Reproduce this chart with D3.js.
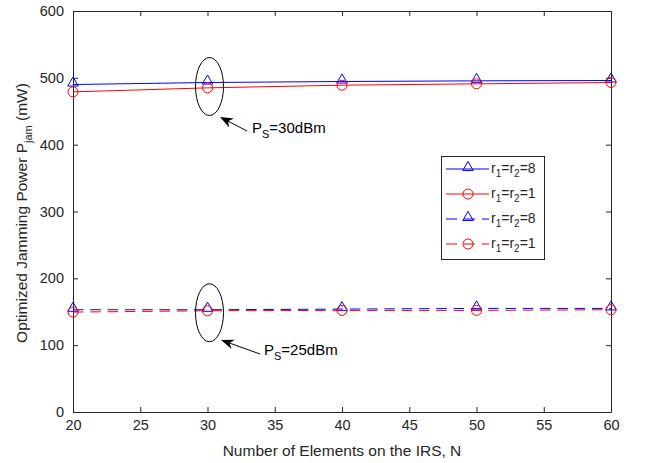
<!DOCTYPE html>
<meta charset="utf-8">
<style>
body{margin:0;background:#fff;}
text{font-family:"Liberation Sans",Arial,sans-serif;fill:#262626;}
.axis text{font-size:14.5px;}
.axis path,.axis line{stroke:#262626;}
.lbl{font-size:15px;}
.leg{font-size:14px;}
.ax{font-size:15.5px;}
</style>
<body>
<script src="https://d3js.org/d3.v7.min.js"></script>
<script>
var N = [20, 30, 40, 50, 60];
var blue30 = [490, 493, 494.5, 495.5, 496];
var red30 = [479, 485, 489, 491, 493];
var blue25 = [153, 153, 154, 155, 155];
var red25 = [149.5, 151.5, 152, 152, 153];
var xTicks = [20, 25, 30, 35, 40, 45, 50, 55, 60];
var yTicks = [0, 100, 200, 300, 400, 500, 600];

var series = [
  {vals: blue30, color: "#0000ff", dash: null, mark: "tri"},
  {vals: red30, color: "#ff0000", dash: null, mark: "circ"},
  {vals: blue25, color: "#0000ff", dash: "10.5,6.8", mark: "tri"},
  {vals: red25, color: "#ff0000", dash: "10.5,6.8", mark: "circ"}
];
var legendNames = ["8", "1", "8", "1"];

var W = 647, H = 463;
var m = {left: 73, right: 36, top: 11, bottom: 51};
var svg = d3.select("body").append("svg").attr("width", W).attr("height", H);
var x = d3.scaleLinear().domain([20, 60]).range([m.left, W - m.right]);
var y = d3.scaleLinear().domain([0, 600]).range([H - m.bottom, m.top]);

// axes with inward ticks, mirrored (box on)
svg.append("g").attr("class", "axis").attr("transform", "translate(0," + y(0) + ")")
  .call(d3.axisBottom(x).tickValues(xTicks).tickSizeInner(-5).tickSizeOuter(0).tickPadding(8));
svg.append("g").attr("class", "axis").attr("transform", "translate(0," + y(600) + ")")
  .call(d3.axisTop(x).tickValues(xTicks).tickSizeInner(-5).tickSizeOuter(0).tickFormat(""));
svg.append("g").attr("class", "axis").attr("transform", "translate(" + x(20) + ",0)")
  .call(d3.axisLeft(y).tickValues(yTicks).tickSizeInner(-5).tickSizeOuter(0).tickPadding(9));
svg.append("g").attr("class", "axis").attr("transform", "translate(" + x(60) + ",0)")
  .call(d3.axisRight(y).tickValues(yTicks).tickSizeInner(-5).tickSizeOuter(0).tickFormat(""));

var line = d3.line().x((d, i) => x(N[i])).y(d => y(d));

function marker(g, type, color, cx, cy) {
  if (type == "tri") {
    g.append("path").attr("d", d3.symbol(d3.symbolTriangle, 48)())
      .attr("transform", "translate(" + cx + "," + (cy - 1.5) + ")")
      .attr("fill", "none").attr("stroke", color).attr("stroke-width", 1);
  } else {
    g.append("circle").attr("cx", cx).attr("cy", cy).attr("r", 5)
      .attr("fill", "none").attr("stroke", color).attr("stroke-width", 1);
  }
}

series.forEach(function(s) {
  var g = svg.append("g");
  g.append("path").datum(s.vals).attr("d", line).attr("fill", "none")
    .attr("stroke", s.color).attr("stroke-width", 1)
    .attr("stroke-dasharray", s.dash);
  s.vals.forEach(function(v, i) { marker(g, s.mark, s.color, x(N[i]), y(v)); });
});

// annotations
function annot(cy, label, tx, ty, hx, hy, lx, ly) {
  svg.append("ellipse").attr("cx", x(30) + 2).attr("cy", cy).attr("rx", 14).attr("ry", 29)
    .attr("fill", "none").attr("stroke", "#000").attr("stroke-width", 1);
  var ang = Math.atan2(hy - ly, hx - lx);
  svg.append("line").attr("x1", lx).attr("y1", ly).attr("x2", hx - 8 * Math.cos(ang)).attr("y2", hy - 8 * Math.sin(ang))
    .attr("stroke", "#000").attr("stroke-width", 1);
  var p1 = [hx - 13 * Math.cos(ang) + 5 * Math.sin(ang), hy - 13 * Math.sin(ang) - 5 * Math.cos(ang)];
  var p2 = [hx - 13 * Math.cos(ang) - 5 * Math.sin(ang), hy - 13 * Math.sin(ang) + 5 * Math.cos(ang)];
  var p3 = [hx - 9 * Math.cos(ang), hy - 9 * Math.sin(ang)];
  svg.append("path").attr("d", "M" + hx + "," + hy + "L" + p1 + "L" + p3 + "L" + p2 + "Z").attr("fill", "#000");
  var t = svg.append("text").attr("class", "lbl").attr("x", tx).attr("y", ty).style("fill", "#000");
  t.append("tspan").text("P");
  t.append("tspan").attr("dy", 5).attr("font-size", "11px").text("S");
  t.append("tspan").attr("dy", -5).text(label);
}
annot(y(493) + 4, "=30dBm", 252, 133, 220, 117, 247, 131);
annot(y(153) + 3, "=25dBm", 264, 355, 221, 340, 260, 354);

// legend
var lg = svg.append("g");
lg.append("rect").attr("x", 441.5).attr("y", 156.5).attr("width", 103).attr("height", 103)
  .attr("fill", "#fff").attr("stroke", "#262626").attr("stroke-width", 1);
series.forEach(function(s, i) {
  var ly = 169 + i * 25;
  lg.append("line").attr("x1", 446).attr("x2", 489).attr("y1", ly).attr("y2", ly)
    .attr("stroke", s.color).attr("stroke-width", 1).attr("stroke-dasharray", s.dash ? "11,7" : null);
  marker(lg, s.mark, s.color, 468, ly);
  var t = lg.append("text").attr("class", "leg").attr("x", 491).attr("y", ly + 4);
  t.append("tspan").text("r");
  t.append("tspan").attr("dy", 4).attr("font-size", "10px").text("1");
  t.append("tspan").attr("dy", -4).text("=r");
  t.append("tspan").attr("dy", 4).attr("font-size", "10px").text("2");
  t.append("tspan").attr("dy", -4).text("=" + legendNames[i]);
});

// axis labels
svg.append("text").attr("class", "ax").attr("x", x(40)).attr("y", 456)
  .attr("text-anchor", "middle").text("Number of Elements on the IRS, N");
var yl = svg.append("text").attr("class", "ax").attr("transform", "translate(27," + 213 + ") rotate(-90)")
  .attr("text-anchor", "middle");
yl.append("tspan").text("Optimized Jamming Power P");
yl.append("tspan").attr("dy", 5).attr("font-size", "11px").text("jam");
yl.append("tspan").attr("dy", -5).text("  (mW)");
</script>
</body>
</html>
